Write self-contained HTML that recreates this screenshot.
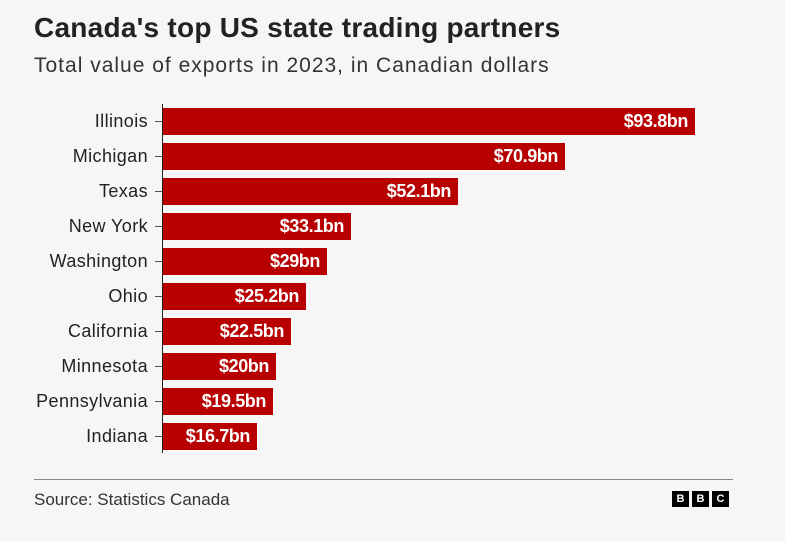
<!DOCTYPE html>
<html><head><style>
body{margin:0;width:785px;height:542px;background:#f6f6f6;font-family:"Liberation Sans",sans-serif;position:relative;overflow:hidden;color:#222}
.t{position:absolute;left:34px;top:12px;font-size:28px;font-weight:bold;color:#222;letter-spacing:0.25px}
.s{position:absolute;left:34px;top:54px;font-size:21px;color:#333;letter-spacing:1px}
.ax{position:absolute;left:162px;top:104px;width:1px;height:349px;background:#222}
.lab{position:absolute;right:637px;font-size:18px;color:#222;height:27px;line-height:27px;white-space:nowrap;letter-spacing:0.4px}
.tk{position:absolute;left:155px;width:7px;height:1px;background:#555}
.bar{position:absolute;left:163px;height:27px;background:#b80000;color:#fff;font-weight:bold;font-size:18px;line-height:27px;text-align:right;box-sizing:border-box;padding-right:7px;letter-spacing:-0.4px}
.ln{position:absolute;left:34px;top:479px;width:699px;height:1px;background:#888}
.src{position:absolute;left:34px;top:490px;font-size:17px;color:#333;letter-spacing:0px}
.bbc{position:absolute;top:491px;width:17px;height:16px;background:#000;color:#fff;font-size:11px;font-weight:bold;text-align:center;line-height:16px}
</style></head><body>
<div class="t">Canada's top US state trading partners</div>
<div class="s">Total value of exports in 2023, in Canadian dollars</div>
<div class="ax"></div>

<div class="lab" style="top:108px">Illinois</div><div class="tk" style="top:121px"></div><div class="bar" style="top:108px;width:532px">$93.8bn</div>
<div class="lab" style="top:143px">Michigan</div><div class="tk" style="top:156px"></div><div class="bar" style="top:143px;width:402px">$70.9bn</div>
<div class="lab" style="top:178px">Texas</div><div class="tk" style="top:191px"></div><div class="bar" style="top:178px;width:295px">$52.1bn</div>
<div class="lab" style="top:213px">New York</div><div class="tk" style="top:226px"></div><div class="bar" style="top:213px;width:188px">$33.1bn</div>
<div class="lab" style="top:248px">Washington</div><div class="tk" style="top:261px"></div><div class="bar" style="top:248px;width:164px">$29bn</div>
<div class="lab" style="top:283px">Ohio</div><div class="tk" style="top:296px"></div><div class="bar" style="top:283px;width:143px">$25.2bn</div>
<div class="lab" style="top:318px">California</div><div class="tk" style="top:331px"></div><div class="bar" style="top:318px;width:128px">$22.5bn</div>
<div class="lab" style="top:353px">Minnesota</div><div class="tk" style="top:366px"></div><div class="bar" style="top:353px;width:113px">$20bn</div>
<div class="lab" style="top:388px">Pennsylvania</div><div class="tk" style="top:401px"></div><div class="bar" style="top:388px;width:110px">$19.5bn</div>
<div class="lab" style="top:423px">Indiana</div><div class="tk" style="top:436px"></div><div class="bar" style="top:423px;width:94px">$16.7bn</div>

<div class="ln"></div>
<div class="src">Source: Statistics Canada</div>
<div class="bbc" style="left:672px">B</div><div class="bbc" style="left:692px">B</div><div class="bbc" style="left:712px">C</div>
</body></html>
